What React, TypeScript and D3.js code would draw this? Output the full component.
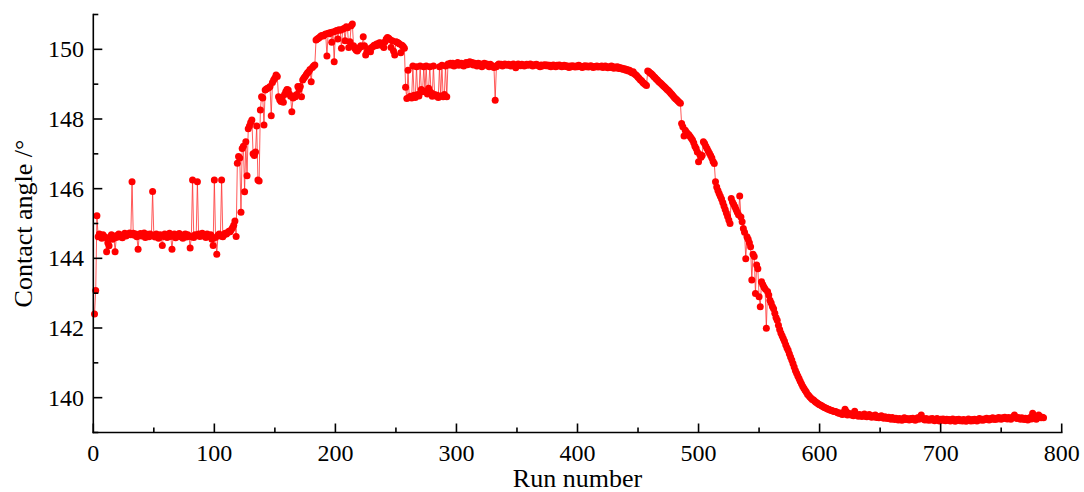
import React from 'react';
import * as d3 from 'd3';

// contact angle per run (run numbers start at 1)
const angleRun1to60 = [
  142.40, 143.08, 145.22, 144.62, 144.70, 144.66, 144.58, 144.68, 144.63, 144.60,
  144.19, 144.45, 144.36, 144.62, 144.68, 144.55, 144.64, 144.19, 144.60, 144.66,
  144.70, 144.62, 144.66, 144.59, 144.68, 144.72, 144.64, 144.67, 144.70, 144.73,
  144.68, 146.20, 144.72, 144.66, 144.70, 144.62, 144.26, 144.68, 144.71, 144.64,
  144.67, 144.73, 144.60, 144.66, 144.69, 144.62, 144.70, 144.65, 145.92, 144.66,
  144.61, 144.70, 144.64, 144.58, 144.68, 144.66, 144.37, 144.63, 144.70, 144.67,
];
const angleRun61to118 = [
  144.60, 144.68, 144.72, 144.63, 144.26, 144.66, 144.70, 144.59, 144.68, 144.64,
  144.71, 144.62, 144.67, 144.58, 144.66, 144.70, 144.61, 144.68, 144.64, 144.30,
  144.62, 146.25, 144.60, 144.68, 144.66, 146.20, 144.70, 144.63, 144.68, 144.72,
  144.64, 144.67, 144.60, 144.70, 144.66, 144.62, 144.68, 144.55, 144.37, 146.25,
  144.60, 144.12, 144.66, 144.70, 144.64, 146.25, 144.62, 144.68, 144.72, 144.70,
  144.74, 144.78, 144.76, 144.82, 144.88, 144.95, 145.07, 144.63,
];
const angleRun119to260 = [
  146.73, 146.92, 146.88, 145.32, 147.15, 147.22, 145.91, 147.35, 146.37, 147.72,
  147.80, 147.90, 147.97, 147.00, 146.95, 147.05, 147.80, 146.25, 146.22, 148.26,
  148.64, 148.60, 147.83, 148.83, 148.86, 148.88, 148.90, 148.93, 148.09, 149.05,
  149.12, 149.18, 149.26, 149.22, 148.64, 148.55, 148.50, 148.62, 148.48, 148.70,
  148.78, 148.85, 148.83, 148.72, 148.65, 148.21, 148.60, 148.66, 148.64, 148.70,
  148.93, 148.85, 148.93, 148.64, 149.12, 149.18, 149.22, 149.28, 149.33, 149.36,
  149.42, 149.07, 149.48, 149.52, 149.55, 150.27, 150.30, 150.32, 150.35, 150.38,
  150.40, 150.38, 150.42, 150.44, 149.81, 150.46, 150.45, 150.48, 150.20, 150.50,
  149.64, 150.52, 150.54, 150.30, 150.56, 150.55, 150.03, 150.58, 150.60, 150.25,
  150.65, 150.62, 150.05, 150.22, 150.68, 150.73, 150.10, 150.03, 149.98, 149.95,
  150.00, 150.05, 150.10, 150.08, 150.36, 150.10, 149.84, 149.92, 149.98, 150.02,
  149.93, 150.05, 150.08, 150.12, 150.10, 150.15, 150.12, 150.18, 150.19, 150.15,
  150.10, 150.05, 150.22, 150.30, 150.34, 150.32, 150.28, 150.05, 150.25, 149.95,
  149.84, 150.22, 150.20, 150.18, 150.15, 149.90, 150.12, 150.08, 150.03, 148.91,
  148.59, 149.40,
];
const angleRun261to295 = [
  148.62, 148.65, 148.60, 149.52, 148.68, 148.62, 149.50, 148.70, 148.66, 149.52,
  148.85, 148.78, 149.50, 148.80, 149.52, 148.72, 148.88, 149.50, 148.76, 148.65,
  149.52, 148.70, 148.66, 148.68, 148.62, 149.50, 148.66, 149.54, 148.64, 148.70,
  149.52, 148.64, 149.58, 149.55, 149.60,
];
const angleRun296to457 = [
  149.55, 149.60, 149.52, 149.58, 149.56, 149.62, 149.54, 149.58, 149.60, 149.55,
  149.52, 149.58, 149.62, 149.56, 149.60, 149.64, 149.58, 149.62, 149.55, 149.60,
  149.57, 149.52, 149.60, 149.55, 149.58, 149.50, 149.56, 149.60, 149.54, 149.58,
  149.55, 149.50, 149.57, 149.53, 149.52, 149.48, 148.54, 149.50, 149.55, 149.58,
  149.55, 149.57, 149.52, 149.55, 149.58, 149.56, 149.54, 149.57, 149.55, 149.52,
  149.56, 149.58, 149.54, 149.47, 149.55, 149.58, 149.56, 149.53, 149.57, 149.55,
  149.52, 149.55, 149.57, 149.54, 149.56, 149.58, 149.55, 149.52, 149.56, 149.54,
  149.57, 149.55, 149.53, 149.50, 149.55, 149.52, 149.54, 149.56, 149.53, 149.55,
  149.52, 149.54, 149.50, 149.53, 149.55, 149.52, 149.50, 149.54, 149.52, 149.55,
  149.53, 149.50, 149.52, 149.54, 149.51, 149.53, 149.50, 149.48, 149.52, 149.50,
  149.53, 149.51, 149.49, 149.52, 149.50, 149.54, 149.52, 149.50, 149.48, 149.51,
  149.53, 149.50, 149.52, 149.49, 149.51, 149.53, 149.50, 149.48, 149.51, 149.50,
  149.52, 149.49, 149.51, 149.50, 149.52, 149.48, 149.50, 149.52, 149.49, 149.47,
  149.50, 149.48, 149.52, 149.50, 149.46, 149.49, 149.47, 149.50, 149.45, 149.48,
  149.44, 149.46, 149.42, 149.44, 149.40, 149.42, 149.38, 149.40, 149.36, 149.33,
  149.36, 149.30, 149.27, 149.24, 149.20, 149.16, 149.12, 149.10, 149.05, 149.02,
  148.99, 148.96,
];
const angleRun458to623 = [
  149.38, 149.36, 149.32, 149.30, 149.26, 149.22, 149.19, 149.15, 149.12, 149.08,
  149.05, 149.02, 148.98, 148.95, 148.92, 148.88, 148.85, 148.82, 148.78, 148.74,
  148.70, 148.66, 148.62, 148.58, 148.55, 148.52, 148.48, 148.45,
  147.87, 147.78, 147.51, 147.68, 147.62, 147.58, 147.55, 147.50, 147.45, 147.40,
  147.32, 147.22, 147.15, 147.05, 146.77, 146.98, 146.90, 146.95, 147.35, 147.30,
  147.22, 147.15, 147.08, 147.02, 146.95, 146.88, 146.78, 146.72, 146.20, 146.05,
  145.95, 145.86, 145.78, 145.70, 145.60, 145.50, 145.40, 145.30, 145.20, 145.10,
  145.00, 145.72, 145.62, 145.55, 145.48, 145.40, 145.32, 145.25, 145.79, 145.19,
  145.05, 144.86, 144.75, 143.99, 144.62, 144.55, 144.45, 144.33, 143.38, 144.12,
  144.05, 142.99, 143.81, 143.70, 142.90, 142.61, 143.33, 143.25, 143.18, 143.12,
  141.99, 143.05, 142.95, 142.80, 142.72, 142.62, 142.55, 142.42, 142.30, 142.22,
  142.08, 141.96, 141.86, 141.78, 141.70, 141.62, 141.52, 141.43, 141.36, 141.26,
  141.17, 141.08, 140.98, 140.88, 140.78, 140.70, 140.62, 140.55, 140.47, 140.40,
  140.33, 140.27, 140.21, 140.16, 140.10, 140.06, 140.02, 139.98, 139.95, 139.93,
  139.90, 139.87, 139.85, 139.82, 139.80, 139.78, 139.76, 139.74, 139.72, 139.70,
  139.69, 139.67, 139.66, 139.64, 139.63, 139.62, 139.60, 139.60, 139.59, 139.57,
  139.55, 139.56, 139.53, 139.52, 139.58, 139.67, 139.60, 139.50,
];
const angleRun624to785 = [
  139.55, 139.52, 139.50, 139.54, 139.48, 139.61, 139.52, 139.50, 139.47, 139.52,
  139.49, 139.46, 139.50, 139.53, 139.47, 139.45, 139.49, 139.52, 139.46, 139.44,
  139.48, 139.45, 139.50, 139.43, 139.46, 139.42, 139.45, 139.48, 139.44, 139.41,
  139.45, 139.42, 139.40, 139.44, 139.41, 139.38, 139.43, 139.40, 139.37, 139.41,
  139.39, 139.36, 139.40, 139.38, 139.35, 139.39, 139.42, 139.37, 139.40, 139.38,
  139.36, 139.40, 139.37, 139.41, 139.38, 139.35, 139.39, 139.42, 139.38, 139.44,
  139.50, 139.41, 139.38, 139.36, 139.40, 139.37, 139.35, 139.39, 139.36, 139.40,
  139.38, 139.34, 139.37, 139.40, 139.36, 139.33, 139.38, 139.35, 139.39, 139.36,
  139.34, 139.38, 139.35, 139.37, 139.33, 139.36, 139.39, 139.35, 139.32, 139.37,
  139.35, 139.38, 139.34, 139.36, 139.33, 139.37, 139.35, 139.32, 139.36, 139.39,
  139.35, 139.33, 139.37, 139.34, 139.38, 139.36, 139.33, 139.37, 139.40, 139.36,
  139.38, 139.35, 139.39, 139.37, 139.41, 139.38, 139.36, 139.40, 139.38, 139.42,
  139.39, 139.37, 139.41, 139.39, 139.43, 139.40, 139.38, 139.42, 139.40, 139.44,
  139.41, 139.39, 139.43, 139.41, 139.38, 139.42, 139.45, 139.50, 139.42, 139.40,
  139.43, 139.41, 139.38, 139.42, 139.40, 139.37, 139.41, 139.39, 139.36, 139.40,
  139.43, 139.39, 139.55, 139.45, 139.41, 139.38, 139.42, 139.50, 139.46, 139.42,
  139.44, 139.42,
];

const xMajorTicks = [0, 100, 200, 300, 400, 500, 600, 700, 800];
const xMinorTicks = [50, 150, 250, 350, 450, 550, 650, 750];
const yMajorTicks = [140, 142, 144, 146, 148, 150];
const yMinorTicks = [139, 141, 143, 145, 147, 149, 151];

const W = 1084;
const H = 492;
const font = '"Liberation Serif", "Times New Roman", serif';

export default function App() {
  const angles = [
    ...angleRun1to60, ...angleRun61to118, ...angleRun119to260, ...angleRun261to295,
    ...angleRun296to457, ...angleRun458to623, ...angleRun624to785,
  ];
  const data = angles.map((v, i) => ({ run: i + 1, v }));

  const x = d3.scaleLinear().domain([0, 800]).range([93.3, 1061.7]);
  const y = d3.scaleLinear().domain([139, 151]).range([432.5, 14.5]);
  const line = d3.line<{ run: number; v: number }>().x(d => x(d.run)).y(d => y(d.v));

  const x0 = x(0);
  const y0 = y(139);

  return (
    <svg width={W} height={H} style={{ position: 'absolute', left: 0, top: 0, background: '#fff' }}>
      <path d={line(data) || ''} fill="none" stroke="#ff3030" strokeWidth={0.8} />
      <g fill="#ff0000">
        {data.map(d => (
          <circle key={d.run} cx={x(d.run)} cy={y(d.v)} r={3.5} />
        ))}
      </g>

      {/* axes */}
      <g stroke="#000" strokeWidth={1.6} fill="none">
        <line x1={x0} x2={x0} y1={y(151) - 0.8} y2={y0 + 0.8} />
        <line x1={x0 - 0.8} x2={x(800) + 0.8} y1={y0} y2={y0} />
        {xMajorTicks.map(t => <line key={'xM' + t} x1={x(t)} x2={x(t)} y1={y0} y2={y0 - 9} />)}
        {xMinorTicks.map(t => <line key={'xm' + t} x1={x(t)} x2={x(t)} y1={y0} y2={y0 - 5} />)}
        {yMajorTicks.map(t => <line key={'yM' + t} x1={x0} x2={x0 + 9} y1={y(t)} y2={y(t)} />)}
        {yMinorTicks.map(t => <line key={'ym' + t} x1={x0} x2={x0 + 5} y1={y(t)} y2={y(t)} />)}
      </g>

      <g fontFamily={font} fontSize={24} fill="#000">
        {xMajorTicks.map(t => (
          <text key={'xl' + t} x={x(t)} y={461} textAnchor="middle">{t}</text>
        ))}
        {yMajorTicks.map(t => (
          <text key={'yl' + t} x={84} y={y(t) + 8} textAnchor="end">{t}</text>
        ))}
      </g>

      <text x={(x(0) + x(800)) / 2} y={487} textAnchor="middle" fontFamily={font} fontSize={26}>
        Run number
      </text>
      <text
        transform={`translate(32, ${(y(139) + y(151)) / 2}) rotate(-90)`}
        textAnchor="middle"
        fontFamily={font}
        fontSize={26}
      >
        Contact angle /°
      </text>
    </svg>
  );
}
